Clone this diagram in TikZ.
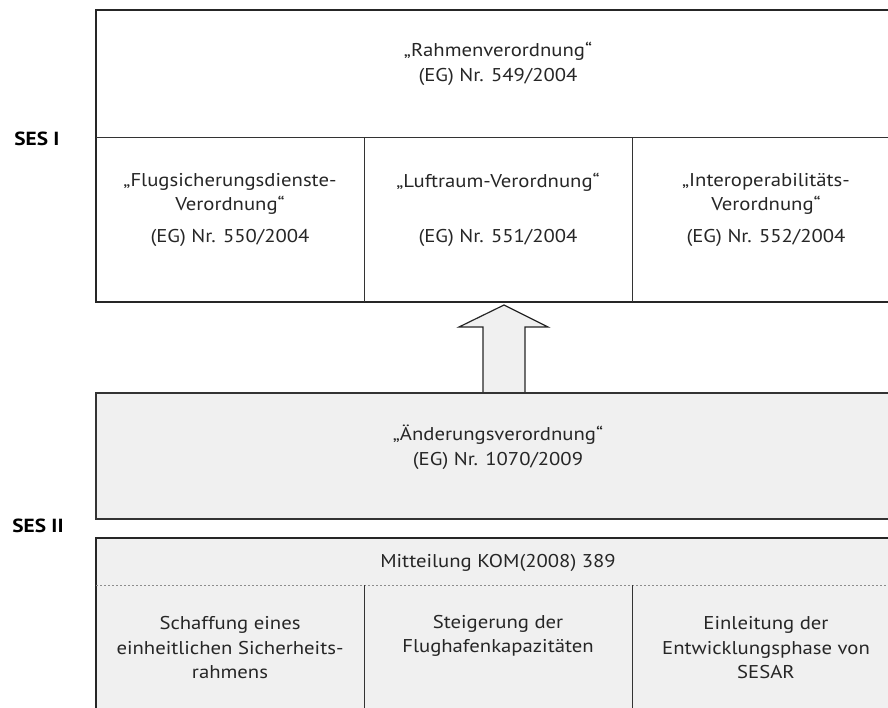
\documentclass[tikz,border=0pt]{standalone}
\usepackage{fontspec}
\setmainfont{PT Sans}[FakeStretch=1.12]
\begin{document}
\begin{tikzpicture}[x=1pt,y=-1pt,
  txt/.style={font=\fontsize{18.5}{24.5}\selectfont, align=center, inner sep=0pt, text=black!85},
  lbl/.style={font=\fontsize{19}{22}\selectfont\bfseries, inner sep=0pt},
  thickline/.style={line width=2.4pt, draw=black!85},
  thinline/.style={line width=1pt, draw=black!80}]
\useasboundingbox (0,0) rectangle (888,707);
% top box
\draw[thickline, fill=white] (96,10) rectangle (905,302);
\draw[thinline] (96,137) -- (905,137);
\draw[thinline] (364,137) -- (364,302);
\draw[thinline] (632,137) -- (632,302);
% arrow
\draw[line width=1.2pt, draw=black!85, fill=black!6, line join=miter]
  (483,393) -- (483,327) -- (459,327) -- (504,305) -- (548,327) -- (525,327) -- (525,393);
% middle grey box
\draw[line width=1.6pt, draw=black!80, fill=black!6] (96,393) rectangle (905,519);
% lower box
\fill[black!6] (96,538) rectangle (905,720);
\draw[line width=2pt, draw=black!85] (905,538) -- (96,538) -- (96,720);
\draw[line width=1pt, draw=black!45, dash pattern=on 2pt off 2pt] (96,585) -- (905,585);
\draw[thinline] (364,585) -- (364,720);
\draw[thinline] (632,585) -- (632,720);
% labels
\node[lbl] (ses1) at (37,139) {SES I};
\node[lbl] (ses2) at (38,526) {SES II};
\node[txt] (rahmen) at (498,64) {„Rahmenverordnung“\\(EG) Nr. 549/2004};
\node[txt] (flug) at (230,194) {„Flugsicherungsdienste-\\Verordnung“};
\node[txt] (flugnr) at (230,238) {(EG) Nr. 550/2004};
\node[txt] (luft) at (498,182) {„Luftraum-Verordnung“};
\node[txt] (luftnr) at (498,238) {(EG) Nr. 551/2004};
\node[txt] (inter) at (766,194) {„Interoperabilitäts-\\Verordnung“};
\node[txt] (internr) at (766,238) {(EG) Nr. 552/2004};
\node[txt] (aend) at (498,447) {„Änderungsverordnung“\\(EG) Nr. 1070/2009};
\node[txt] (mitt) at (498,563) {Mitteilung KOM(2008) 389};
\node[txt] (c1) at (230,648) {Schaffung eines\\einheitlichen Sicherheits-\\rahmens};
\node[txt] (c2) at (498,636) {Steigerung der\\Flughafenkapazitäten};
\node[txt] (c3) at (766,648) {Einleitung der\\Entwicklungsphase von\\SESAR};
\end{tikzpicture}
\end{document}
